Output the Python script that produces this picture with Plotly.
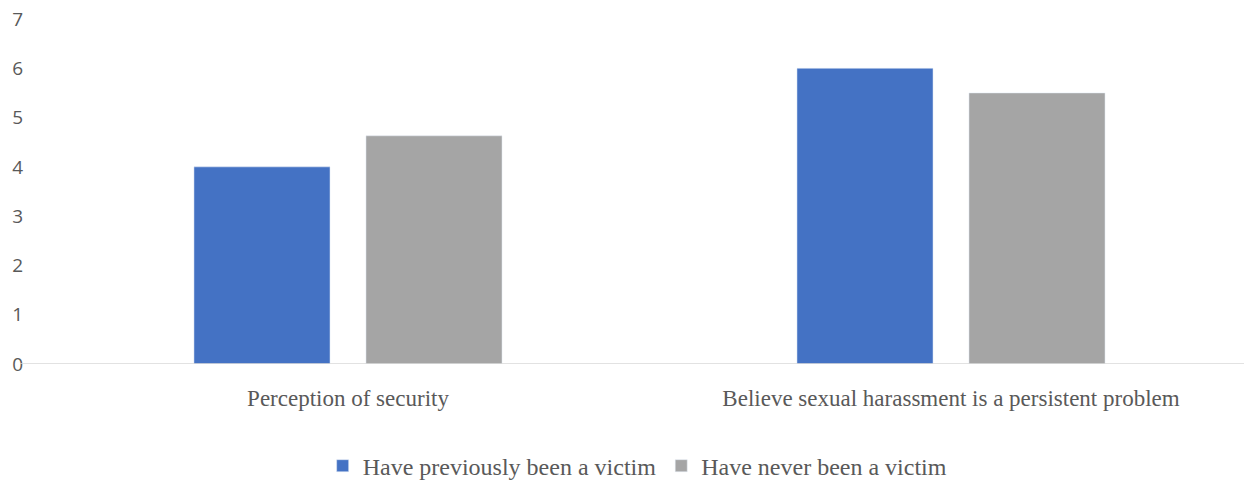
import plotly.graph_objects as go

categories = ["Perception of security", "Believe sexual harassment is a persistent problem"]
victim = [4.0, 6.0]
never_victim = [4.63, 5.5]
series_names = ["Have previously been a victim", "Have never been a victim"]
y_ticks = [0, 1, 2, 3, 4, 5, 6, 7]

W, H = 1244, 482
L, R, T, B = 24, 0, 19, 118

fig = go.Figure()
fig.add_trace(go.Bar(x=[0, 1], y=victim, name=series_names[0], marker_color="#4472C4"))
fig.add_trace(go.Bar(x=[0, 1], y=never_victim, name=series_names[1], marker_color="#A5A5A5"))

plot_w = W - L - R
fig.add_shape(type="line", xref="paper", yref="y", x0=-4 / plot_w, x1=1, y0=0, y1=0,
              line=dict(color="#D9D9D9", width=1.5))

fig.update_layout(
    width=W, height=H,
    margin=dict(l=L, r=R, t=T, b=B, autoexpand=False),
    paper_bgcolor="white", plot_bgcolor="white",
    barmode="group", bargap=0.4295, bargroupgap=0.209,
    xaxis=dict(range=[-0.5373, 1.4859], tickmode="array", tickvals=[0, 1], ticktext=categories,
               tickfont=dict(family="Liberation Serif", size=23, color="#595959"),
               showgrid=False, zeroline=False, showline=False, ticks="", ticklabelstandoff=18),
    yaxis=dict(range=[0, 7], tickmode="array", tickvals=y_ticks,
               tickfont=dict(family="Open Sans", size=19, color="#595959"),
               showgrid=False, zeroline=False, showline=False, ticks="", ticklabelstandoff=0),
    legend=dict(orientation="h", x=0.503, xanchor="center", yref="container",
                y=0.033, yanchor="middle",
                font=dict(family="Liberation Serif", size=24, color="#595959"),
                itemwidth=30, entrywidthmode="pixels"),
)

fig.write_html("out.html")
